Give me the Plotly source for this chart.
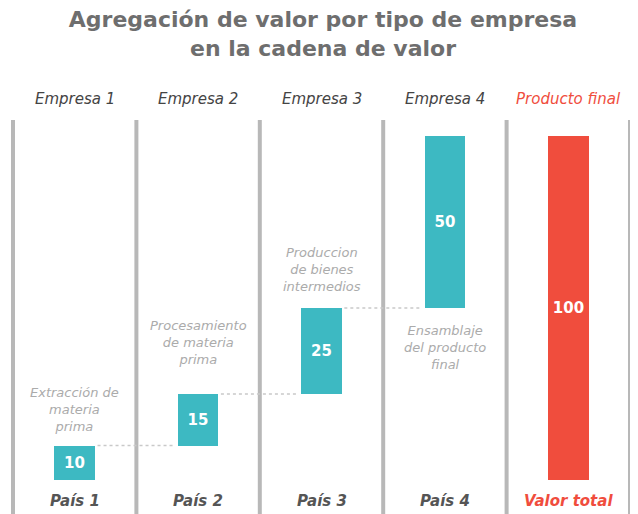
import numpy as np
import plotly.graph_objects as go

# ---- data ----
empresas = ["Empresa 1", "Empresa 2", "Empresa 3", "Empresa 4", "Producto final"]
paises = ["País 1", "País 2", "País 3", "País 4", "Valor total"]
valores = [10, 15, 25, 50]
valor_total = 100
descripciones = [
    ["Extracción de", "materia", "prima"],
    ["Procesamiento", "de materia", "prima"],
    ["Produccion", "de bienes", "intermedios"],
    ["Ensamblaje", "del producto", "final"],
]

OFF = 8  # page body margin
W, H = 638 - OFF, 514 - OFF
TEAL = "#3db9c2"
RED = "#f04d3d"
GRAY_SEP = "#b8b8b8"
FONT = "DejaVu Sans"

x = list(range(len(empresas)))
cum = np.cumsum(valores)
bases = list(np.concatenate([[0], cum[:-1]])) + [0]
lengths = valores + [valor_total]
colors = [TEAL] * len(valores) + [RED]
bw = 0.33

fig = go.Figure()

# connectors between consecutive company bars
for i in range(len(valores) - 1):
    fig.add_trace(go.Scatter(
        x=[i + bw / 2 + 0.02, i + 1 - bw / 2 - 0.02], y=[cum[i], cum[i]],
        mode="lines", line=dict(color="#c9c9c9", width=1.5, dash="dot"),
        hoverinfo="skip", showlegend=False))

fig.add_trace(go.Bar(
    x=x, y=lengths, base=bases, width=bw,
    marker=dict(color=colors, line=dict(width=0)),
    text=[str(v) for v in lengths], textposition="inside",
    insidetextanchor="middle", textangle=0,
    textfont=dict(color="white", size=15, family=FONT, weight="bold"),
    showlegend=False, hoverinfo="skip"))

# reference pixel mapping (before page offset)
ppu = (480 - 136) / 100.0
y0px = 480 - OFF
y_lo = -(H - y0px) / ppu
y_hi = 100 + (136 - OFF) / ppu
ppx = (630 - 13) / 5.0
xl = 13 - OFF
xr = 630 - OFF
x_lo = -0.5 - xl / ppx
x_hi = 4.5 + (W - xr) / ppx


def py(p):
    return (H - (p - OFF)) / H


shapes = []
for k in range(len(empresas) + 1):
    shapes.append(dict(type="line", xref="x", yref="paper", x0=k - 0.5, x1=k - 0.5,
                       y0=0, y1=py(120), line=dict(color=GRAY_SEP, width=4), layer="below"))

ann = []
for i, (e, p) in enumerate(zip(empresas, paises)):
    last = i == len(empresas) - 1
    ann.append(dict(x=i, y=py(99), xref="x", yref="paper", text=e, showarrow=False,
                    font=dict(family=FONT, size=15, color=RED if last else "#444444",
                              style="italic"),
                    xanchor="center", yanchor="middle"))
    ann.append(dict(x=i, y=py(501), xref="x", yref="paper", text=p, showarrow=False,
                    font=dict(family=FONT, size=15, color=RED if last else "#555555",
                              style="italic", weight="bold"),
                    xanchor="center", yanchor="middle"))

desc_mid = [(409, 0), (342, 1), (269, 2), (347, 3)]
for (mid, i), lines in zip(desc_mid, descripciones):
    ann.append(dict(x=i, y=py(mid), xref="x", yref="paper", text="<br>".join(lines),
                    showarrow=False, align="center",
                    font=dict(family=FONT, size=13, color="#ababab", style="italic",
                              weight=300),
                    xanchor="center", yanchor="middle"))

fig.update_layout(
    width=W, height=H,
    margin=dict(l=0, r=0, t=0, b=0),
    paper_bgcolor="white", plot_bgcolor="white",
    title=dict(text="Agregación de valor por tipo de empresa<br>en la cadena de valor",
               x=0.5, xanchor="center", y=py(27), yanchor="middle", yref="container",
               font=dict(family=FONT, size=22, color="#6e6e6e", weight="bold")),
    xaxis=dict(range=[x_lo, x_hi], visible=False, fixedrange=True),
    yaxis=dict(range=[y_lo, y_hi], visible=False, fixedrange=True),
    shapes=shapes, annotations=ann,
    bargap=0,
)

fig.write_html("out.html")
